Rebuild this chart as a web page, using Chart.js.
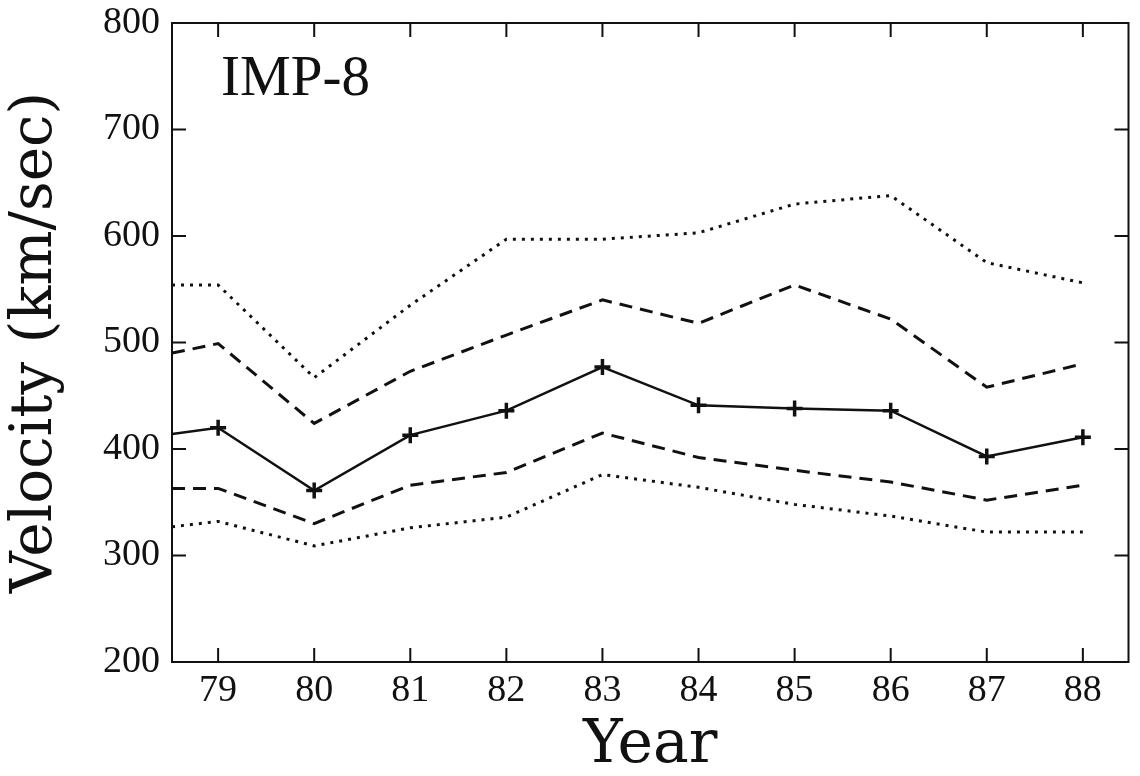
<!DOCTYPE html>
<html>
<head>
<meta charset="utf-8">
<script src="https://cdn.jsdelivr.net/npm/chart.js@4/dist/chart.umd.min.js"></script>
<style>
  html, body { margin: 0; padding: 0; background: #fff; }
  #wrap { width: 1140px; height: 776px; }
</style>
</head>
<body>
<div id="wrap"><canvas id="chart" width="1140" height="776"></canvas></div>
<script>
// year positions (first one sits on the left frame)
const years = [78.52, 79, 80, 81, 82, 83, 84, 85, 86, 87, 88];
const yearTicks = [79, 80, 81, 82, 83, 84, 85, 86, 87, 88];
const velocityTicks = [200, 300, 400, 500, 600, 700, 800];

// velocity bands (km/sec)
const upperDotted = [554, 554, 467, 535, 597, 597, 603, 630, 638, 575, 556];
const upperDashed = [490, 499, 424, 473, 507, 540, 518, 554, 522, 458, 480];
const median      = [414, 420, 361, 413, 436, 477, 441, 438, 436, 393, 411];
const lowerDashed = [363, 363, 330, 366, 378, 415, 392, 380, 369, 352, 366];
const lowerDotted = [327, 332, 309, 326, 336, 376, 364, 348, 337, 322, 322];

const panelLabel = 'IMP-8';

const INK = '#111';
const TICK_FONT = { family: '"Liberation Serif", serif', size: 38 };

function toPoints(vals) {
    return vals.map((v, i) => ({ x: years[i], y: v }));
}

function bandLine(vals, dash) {
    return {
        data: toPoints(vals),
        borderColor: INK,
        borderWidth: 3,
        borderDash: dash,
        borderCapStyle: 'butt',
        pointRadius: 0,
        fill: false,
        tension: 0
    };
}

// frame, inward ticks on all four sides, panel label
const framePlugin = {
    id: 'frame',
    afterDraw(chart) {
        const { ctx, chartArea: a, scales: { x, y } } = chart;
        const len = 14;
        ctx.save();
        ctx.strokeStyle = INK;
        ctx.lineWidth = 2;
        ctx.strokeRect(a.left, a.top, a.right - a.left, a.bottom - a.top);
        ctx.beginPath();
        yearTicks.forEach(v => {
            const px = x.getPixelForValue(v);
            ctx.moveTo(px, a.bottom); ctx.lineTo(px, a.bottom - len);
            ctx.moveTo(px, a.top); ctx.lineTo(px, a.top + len);
        });
        velocityTicks.forEach(v => {
            const py = y.getPixelForValue(v);
            ctx.moveTo(a.left, py); ctx.lineTo(a.left + len, py);
            ctx.moveTo(a.right, py); ctx.lineTo(a.right - len, py);
        });
        ctx.stroke();

        ctx.fillStyle = INK;
        ctx.font = '57px "Liberation Serif", serif';
        ctx.textAlign = 'left';
        ctx.textBaseline = 'alphabetic';
        ctx.fillText(panelLabel, x.getPixelForValue(79) + 3, y.getPixelForValue(732));
        ctx.restore();
    }
};

new Chart(document.getElementById('chart'), {
    type: 'line',
    data: {
        datasets: [
            bandLine(upperDotted, [3, 6]),
            bandLine(upperDashed, [13, 8]),
            {
                data: toPoints(median),
                borderColor: INK,
                borderWidth: 2.5,
                pointStyle: 'cross',
                pointRadius: years.map((_, i) => i === 0 ? 0 : 8),
                pointBorderWidth: 3.5,
                pointBorderColor: INK,
                fill: false,
                tension: 0
            },
            bandLine(lowerDashed, [13, 8]),
            bandLine(lowerDotted, [3, 6])
        ]
    },
    options: {
        responsive: false,
        animation: false,
        devicePixelRatio: 1,
        layout: { padding: { left: 0, right: 4, top: 23, bottom: 0 } },
        plugins: { legend: { display: false }, tooltip: { enabled: false } },
        scales: {
            x: {
                type: 'linear',
                min: 78.52,
                max: 88.475,
                afterBuildTicks: s => { s.ticks = yearTicks.map(v => ({ value: v })); },
                afterFit: s => { s.height = 114; s.paddingLeft = 0; s.paddingRight = 0; },
                ticks: {
                    autoSkip: false, maxRotation: 0, padding: 6,
                    color: INK, font: TICK_FONT,
                    callback: v => String(v)
                },
                grid: { display: false, drawTicks: false },
                border: { display: false },
                title: {
                    display: true, text: 'Year', color: INK,
                    font: { family: '"DejaVu Serif", serif', size: 60, lineHeight: 1 },
                    padding: { top: 0, bottom: 0 }
                }
            },
            y: {
                min: 200,
                max: 800,
                afterBuildTicks: s => { s.ticks = velocityTicks.map(v => ({ value: v })); },
                afterFit: s => { s.width = 172; s.paddingTop = 0; s.paddingBottom = 0; },
                ticks: { padding: 12, color: INK, font: TICK_FONT },
                grid: { display: false, drawTicks: false },
                border: { display: false },
                title: {
                    display: true, text: 'Velocity (km/sec)', color: INK,
                    font: { family: '"DejaVu Serif", serif', size: 58, lineHeight: 1 },
                    padding: { top: 7, bottom: 0 }
                }
            }
        }
    },
    plugins: [framePlugin]
});
</script>
</body>
</html>
